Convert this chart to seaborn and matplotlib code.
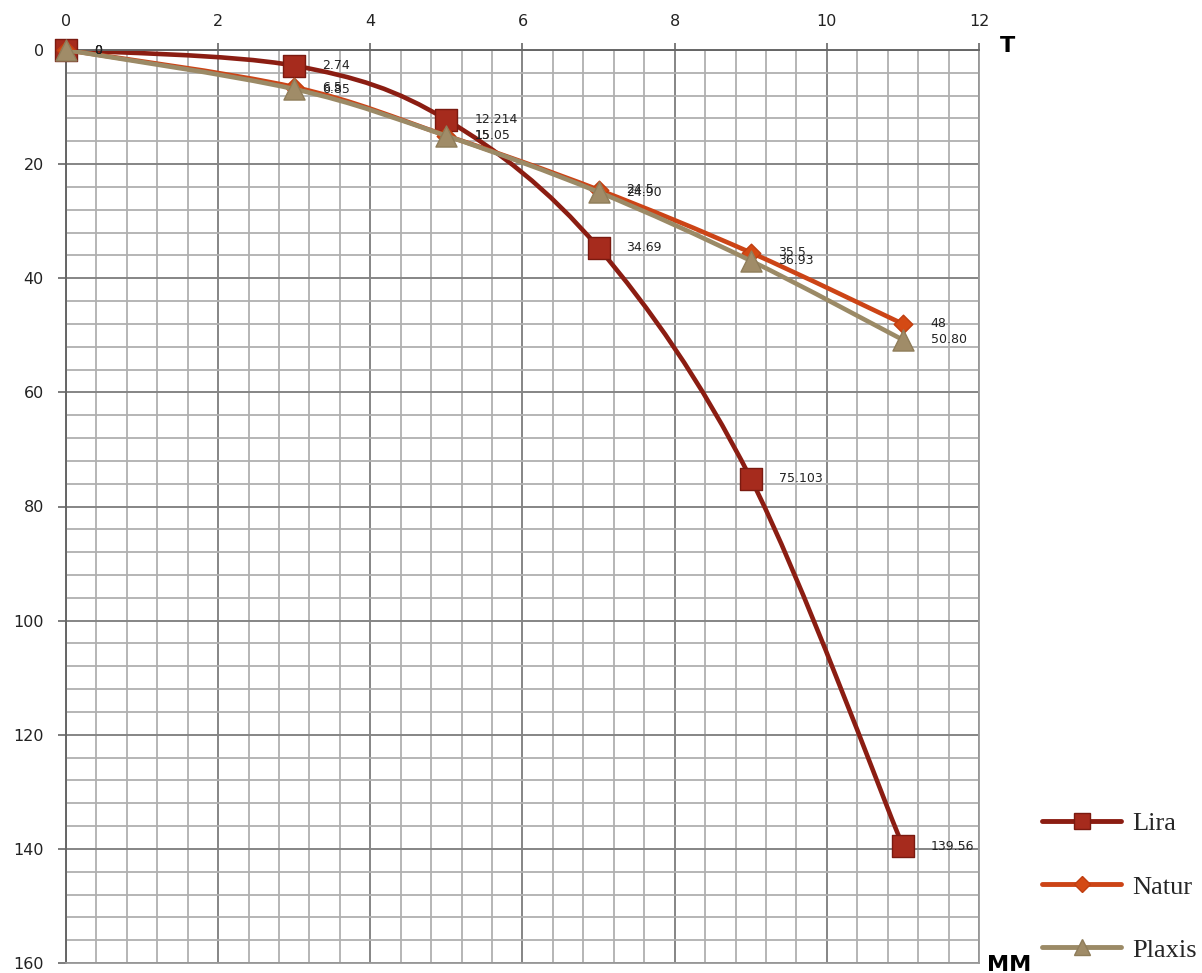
import matplotlib
matplotlib.use('Agg')
import matplotlib.pyplot as plt
import seaborn as sns
import numpy as np
from matplotlib.path import Path
from matplotlib.patches import PathPatch
from matplotlib.lines import Line2D
from matplotlib.ticker import MultipleLocator

sns.set_style("white")
plt.rcParams['font.family'] = ['DejaVu Sans']

# Load steps (T) and displacements (MM)
steps = [0, 3, 5, 7, 9, 11]
lira = [0, 2.74, 12.214, 34.69, 75.103, 139.56]
natur = [0, 6.5, 15, 24.5, 35.5, 48]
plaxis = [0, 6.85, 15.05, 24.90, 36.93, 50.80]
lira_labels = ['0', '2.74', '12.214', '34.69', '75.103', '139.56']
natur_labels = ['0', '6.5', '15', '24.5', '35.5', '48']
plaxis_labels = ['0', '6.85', '15.05', '24.90', '36.93', '50.80']


def smooth_path(xs, ys):
    # Excel-style smoothed line: Catmull-Rom converted to cubic Bezier segments
    pts = np.column_stack([xs, ys]).astype(float)
    n = len(pts)
    verts = [pts[0]]
    codes = [Path.MOVETO]
    for i in range(n - 1):
        p0 = pts[max(i - 1, 0)]
        p1 = pts[i]
        p2 = pts[i + 1]
        p3 = pts[min(i + 2, n - 1)]
        verts += [p1 + (p2 - p0) / 6, p2 - (p3 - p1) / 6, p2]
        codes += [Path.CURVE4] * 3
    return Path(verts, codes)


fig = plt.figure(figsize=(12.02, 9.73), dpi=100)
ax = fig.add_axes([66 / 1202, 1 - 963 / 973, (979 - 66) / 1202, (963 - 50) / 973])

series = [
    ('Lira', lira, lira_labels, '#8b1d12', 's', 256, '#a62b1d', '#7a1a10', 12),
    ('Natur', natur, natur_labels, '#cc4416', 'D', 90, '#d44a14', '#c03e10', 8),
    ('Plaxis', plaxis, plaxis_labels, '#9b8a66', '^', 230, '#a08c68', '#8f7d5a', 11),
]

handles = []
z = 2
for name, vals, labels, lc, mk, ms, mfc, mec, lms in series:
    patch = PathPatch(smooth_path(steps, vals), facecolor='none', edgecolor=lc,
                      lw=3.3, capstyle='round', joinstyle='round', zorder=z)
    ax.add_patch(patch)
    sns.scatterplot(x=steps, y=vals, marker=mk, s=ms, color=mfc, edgecolor=mec,
                    linewidth=1, ax=ax, zorder=z + 1, clip_on=False, legend=False)
    for xv, yv, lab in zip(steps, vals, labels):
        ax.annotate(lab, (xv, yv), xytext=(20, 0), textcoords='offset points',
                    ha='left', va='center', fontsize=9, color='#222222', zorder=10)
    handles.append(Line2D([], [], color=lc, lw=3.5, marker=mk, markersize=lms,
                          markerfacecolor=mfc, markeredgecolor=mec))
    z += 2

ax.set_xlim(0, 12)
ax.set_ylim(160, 0)
ax.xaxis.tick_top()
ax.xaxis.set_major_locator(MultipleLocator(2))
ax.xaxis.set_minor_locator(MultipleLocator(0.4))
ax.yaxis.set_major_locator(MultipleLocator(20))
ax.yaxis.set_minor_locator(MultipleLocator(4))
ax.grid(which='major', color='#858585', lw=1.4)
ax.grid(which='minor', color='#b0b0b0', lw=1.3)
ax.set_axisbelow(True)
ax.tick_params(which='minor', length=0)
ax.tick_params(axis='x', which='major', top=True, bottom=False, length=5, width=1.2,
               color='#666666', pad=10, labelsize=11.5, labelcolor='#222222')
ax.tick_params(axis='y', which='major', left=True, length=6, width=1.2,
               color='#666666', pad=10, labelsize=11.5, labelcolor='#222222')
for side in ['left', 'top']:
    ax.spines[side].set_color('#666666')
    ax.spines[side].set_linewidth(1.4)
for side in ['right', 'bottom']:
    ax.spines[side].set_color('#999999')
    ax.spines[side].set_linewidth(1.3)

fig.text(1008 / 1202, 1 - 52 / 973, 'T', ha='center', va='baseline',
         fontsize=16, fontweight='bold', color='black')
fig.text(1009 / 1202, 1 - 971 / 973, 'MM', ha='center', va='baseline',
         fontsize=16, fontweight='bold', color='black')

fig.legend(handles, ['Lira', 'Natur', 'Plaxis'], loc='upper left',
           bbox_to_anchor=(1042 / 1202, 1 - 812 / 973), frameon=False,
           prop={'family': 'Liberation Serif', 'size': 19},
           handlelength=3.0, handletextpad=0.42, labelspacing=1.5,
           borderaxespad=0, borderpad=0)

fig.savefig('out.png', dpi=100)
